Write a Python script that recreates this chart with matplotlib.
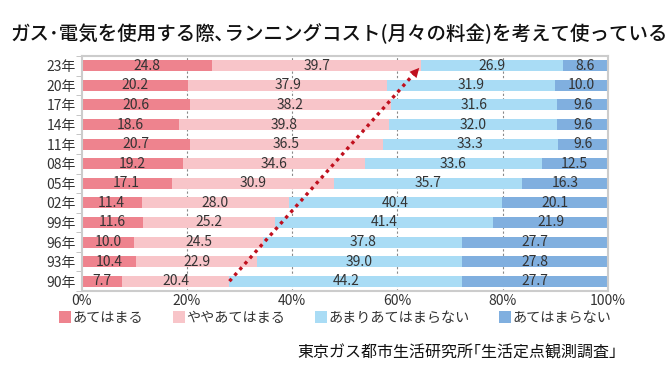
import numpy as np
import matplotlib.pyplot as plt
from matplotlib.patches import Patch

plt.rcParams['font.family'] = ['Noto Sans CJK JP', 'DejaVu Sans']

# データ（上から 23年 → 90年）
years = ['23年', '20年', '17年', '14年', '11年', '08年', '05年', '02年', '99年', '96年', '93年', '90年']
atehamaru = [24.8, 20.2, 20.6, 18.6, 20.7, 19.2, 17.1, 11.4, 11.6, 10.0, 10.4, 7.7]
yaya = [39.7, 37.9, 38.2, 39.8, 36.5, 34.6, 30.9, 28.0, 25.2, 24.5, 22.9, 20.4]
amari = [26.9, 31.9, 31.6, 32.0, 33.3, 33.6, 35.7, 40.4, 41.4, 37.8, 39.0, 44.2]
atehamaranai = [8.6, 10.0, 9.6, 9.6, 9.6, 12.5, 16.3, 20.1, 21.9, 27.7, 27.8, 27.7]
labels = ['あてはまる', 'ややあてはまる', 'あまりあてはまらない', 'あてはまらない']
xticks = [0, 20, 40, 60, 80, 100]

colors = ['#ee838e', '#f8c5c9', '#a9dcf5', '#80afdf']
series = [atehamaru, yaya, amari, atehamaranai]

fig = plt.figure(figsize=(6.7, 3.86), dpi=100)
ax = fig.add_axes([81.5 / 670, 1 - 291 / 386, 526.5 / 670, (291 - 56) / 386])

y = np.arange(len(years))
left = np.zeros(len(years))
for vals, col in zip(series, colors):
    vals = np.array(vals)
    ax.barh(y, vals, left=left, height=0.56, color=col, zorder=2)
    for yi, l, v in zip(y, left, vals):
        ax.text(l + v / 2, yi, f'{v:.1f}', ha='center', va='center',
                fontsize=10, color='#333333', zorder=4)
    left = left + vals

# 矢印（90年→23年 の「あてはまる＋ややあてはまる」）
x0 = atehamaru[-1] + yaya[-1]
x1 = atehamaru[0] + yaya[0]
y0, y1 = len(years) - 1, 0
ax.plot([x0, x1 - (x1 - x0) * 0.04], [y0, y1 + (y0 - y1) * 0.04], ls=(0, (1, 1.3)),
        color='#c0101e', lw=2.4, zorder=5)
ax.annotate('', xy=(x1, y1), xytext=(x1 - (x1 - x0) * 0.06, y1 + (y0 - y1) * 0.06),
            arrowprops=dict(arrowstyle='-|>', color='#c0101e', lw=0, mutation_scale=17),
            zorder=6)

ax.set_xlim(0, 100)
ax.set_ylim(len(years) - 0.54, -0.46)
ax.set_xticks(xticks)
ax.set_xticklabels([f'{t}%' for t in xticks], fontsize=10, color='#333333')
ax.set_yticks(y)
ax.set_yticklabels(years, fontsize=10, color='#333333')
ax.set_yticks(np.arange(len(years) + 1) - 0.5, minor=True)
ax.tick_params(axis='y', which='major', length=0, pad=4)
ax.tick_params(axis='y', which='minor', length=4, color='#bbbbbb')
ax.tick_params(axis='x', length=0, pad=2)
for t in [20, 40, 60, 80]:
    ax.axvline(t, color='#888888', ls=(0, (2, 2)), lw=0.8, zorder=1)
for s in ax.spines.values():
    s.set_color('#cccccc')
    s.set_linewidth(1.5)

fig.text(10 / 670, 1 - 34 / 386, 'ガス･電気を使用する際､ランニングコスト(月々の料金)を考えて使っている',
         fontsize=14, fontweight='medium', va='center', ha='left', color='#111111')

handles = [Patch(facecolor=c, edgecolor='none') for c in colors]
fig.legend(handles, labels, loc='center left', bbox_to_anchor=(59 / 670, 1 - 318 / 386),
           ncol=4, frameon=False, fontsize=10.2, handlelength=0.85, handleheight=0.85,
           handletextpad=0.1, columnspacing=2.1, borderpad=0, borderaxespad=0,
           labelcolor='#333333')

fig.text(617 / 670, 1 - 353 / 386, '東京ガス都市生活研究所｢生活定点観測調査｣',
         fontsize=11.5, ha='right', va='center', color='#111111')

fig.savefig('out.png', dpi=100)
